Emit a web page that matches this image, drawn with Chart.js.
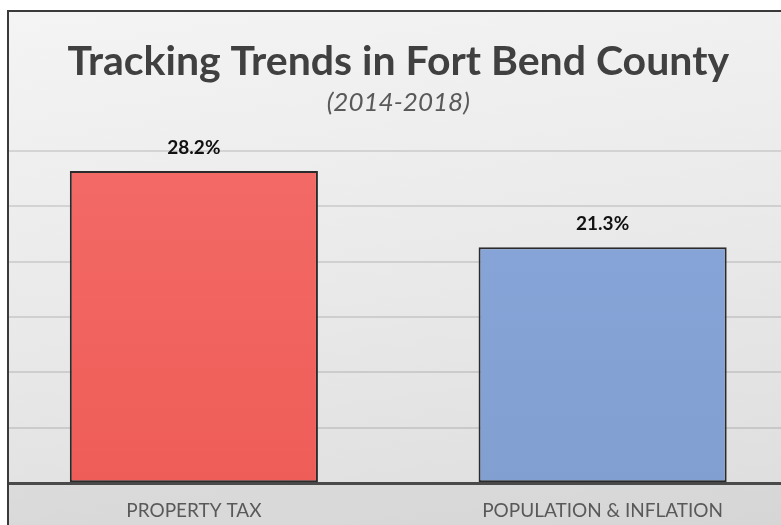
<!DOCTYPE html>
<html>
<head>
<meta charset="utf-8">
<script src="https://cdn.jsdelivr.net/npm/chart.js@4.4.1/dist/chart.umd.min.js"></script>
<style>
  html, body { margin: 0; padding: 0; background: #ffffff; overflow: hidden; }
  #frame {
    position: absolute; left: 7px; top: 10px; width: 900px; height: 600px;
    border: 2px solid #3a3a3a; overflow: hidden;
    background: linear-gradient(172deg, #f4f4f4 0%, #e9e9e9 45%, #dddddd 85%, #d6d6d6 100%);
  }
  #wrap { position: absolute; left: -39px; top: -12px; width: 856px; height: 544px; }
</style>
</head>
<body>
<div id="frame"><div id="wrap"><canvas id="chart"></canvas></div></div>
<script>
// Growth over 2014-2018, in percent
const categories = ['PROPERTY TAX', 'POPULATION & INFLATION'];
const changePct = [28.2, 21.3];
const valueLabels = ['28.2%', '21.3%'];

const FONT = 'Lato, "Open Sans", sans-serif';

function barFill(ctx, top, bottom) {
  const area = ctx.chart.chartArea;
  if (!area) return top;
  const g = ctx.chart.ctx.createLinearGradient(0, area.top, 0, area.bottom);
  g.addColorStop(0, top);
  g.addColorStop(1, bottom);
  return g;
}

// Band behind the category labels, below the axis line
const bandPlugin = {
  id: 'band',
  beforeDraw(chart) {
    const { ctx, chartArea, width, height } = chart;
    ctx.save();
    ctx.fillStyle = 'rgba(0,0,0,0.03)';
    ctx.fillRect(0, chartArea.bottom, width, height - chartArea.bottom);
    ctx.restore();
  }
};

// Value text above each bar
const valueLabelPlugin = {
  id: 'valueLabels',
  afterDraw(chart) {
    const { ctx } = chart;
    const meta = chart.getDatasetMeta(0);
    ctx.save();
    ctx.font = 'bold 19px ' + FONT;
    ctx.fillStyle = '#111111';
    ctx.textAlign = 'center';
    ctx.textBaseline = 'middle';
    meta.data.forEach((bar, i) => {
      ctx.fillText(valueLabels[i], bar.x, bar.y - 23);
    });
    ctx.restore();
  }
};

new Chart(document.getElementById('chart'), {
  type: 'bar',
  data: {
    labels: categories,
    datasets: [{
      data: changePct,
      backgroundColor: (ctx) => ctx.dataIndex === 0
        ? barFill(ctx, '#f36a66', '#ef5d58')
        : barFill(ctx, '#88a6d9', '#819fd1'),
      borderColor: '#2b2b2b',
      borderWidth: 2,
      borderSkipped: false,
      categoryPercentage: 1,
      barPercentage: 0.607
    }]
  },
  options: {
    responsive: true,
    maintainAspectRatio: false,
    animation: false,
    layout: { padding: { left: 19.5, right: 19, top: 0, bottom: 6 } },
    plugins: {
      legend: { display: false },
      tooltip: { enabled: false },
      title: {
        display: true,
        text: 'Tracking Trends in Fort Bend County',
        color: '#404040',
        font: { family: FONT, size: 41, weight: 'bold', lineHeight: 1.2 },
        padding: { top: 37.4, bottom: 0 }
      },
      subtitle: {
        display: true,
        text: '(2014-2018)',
        color: '#595959',
        font: { family: FONT, size: 26, style: 'italic', lineHeight: 1.2 },
        padding: { top: 0.8, bottom: 32.4 }
      }
    },
    scales: {
      x: {
        z: 1,
        grid: { display: false, drawTicks: false },
        border: { display: true, color: '#4a4a4a', width: 3 },
        ticks: {
          color: '#595959',
          padding: 16,
          font: { family: FONT, size: 19 }
        }
      },
      y: {
        z: 1,
        min: 0,
        max: 30,
        ticks: { display: false, stepSize: 5 },
        grid: { color: 'rgba(0,0,0,0.11)', lineWidth: 2, drawTicks: false },
        border: { display: false }
      }
    }
  },
  plugins: [bandPlugin, valueLabelPlugin]
});
</script>
</body>
</html>
